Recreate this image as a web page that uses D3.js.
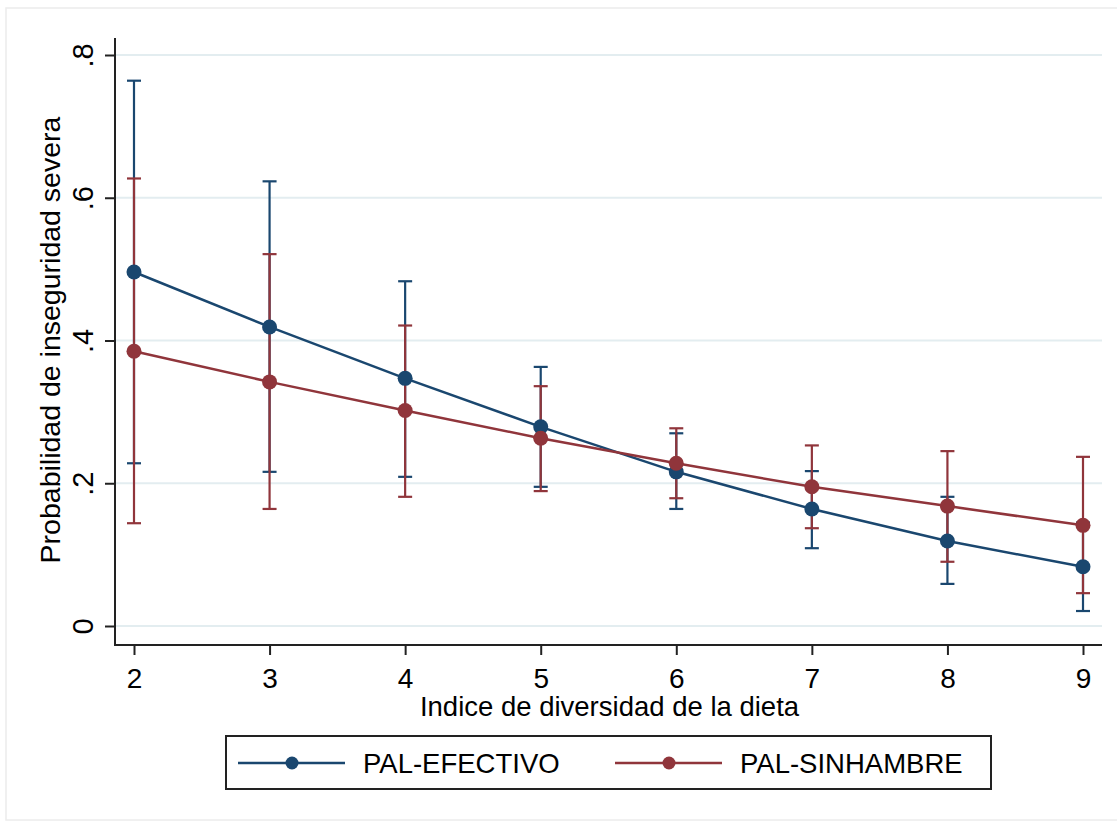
<!DOCTYPE html>
<html lang="es">
<head>
  <meta charset="utf-8">
  <title>Probabilidad de inseguridad severa</title>
  <script src="https://d3js.org/d3.v7.min.js"></script>
  <style>
    body { margin: 0; background: #fff; }
    text { font-family: "Liberation Sans", Arial, sans-serif; fill: #000; }
  </style>
</head>
<body>
<script>
  // datos
  var dieta = [2, 3, 4, 5, 6, 7, 8, 9];
  var efectivo = [0.496, 0.419, 0.347, 0.279, 0.216, 0.164, 0.119, 0.083];
  var efectivoLo = [0.228, 0.216, 0.209, 0.195, 0.164, 0.109, 0.059, 0.021];
  var efectivoHi = [0.764, 0.623, 0.483, 0.363, 0.270, 0.217, 0.181, 0.145];
  var sinhambre = [0.385, 0.342, 0.302, 0.263, 0.228, 0.195, 0.168, 0.141];
  var sinhambreLo = [0.144, 0.164, 0.181, 0.189, 0.179, 0.137, 0.090, 0.046];
  var sinhambreHi = [0.627, 0.521, 0.421, 0.336, 0.277, 0.253, 0.245, 0.237];
  var yTicks = [0, 0.2, 0.4, 0.6, 0.8];
  var yTickLabels = ["0", ".2", ".4", ".6", ".8"];
  var seriesNames = ["PAL-EFECTIVO", "PAL-SINHAMBRE"];
  var colors = ["#1a476f", "#90353b"];

  var width = 1117, height = 823;

  var svg = d3.select("body").append("svg")
      .attr("width", width)
      .attr("height", height);

  // marco exterior
  svg.append("rect")
      .attr("x", 6).attr("y", 8)
      .attr("width", 1130).attr("height", 812)
      .attr("fill", "none")
      .attr("stroke", "#ececec")
      .attr("stroke-width", 1.5);

  var x = d3.scaleLinear().domain([2, 9]).range([134, 1083]);
  var y = d3.scaleLinear().domain([0, 0.8]).range([626, 55]);

  var axisX = 115, axisY = 645, plotRight = 1102;

  // grid
  svg.append("g").selectAll("line")
      .data(yTicks)
      .join("line")
      .attr("x1", axisX + 1).attr("x2", plotRight)
      .attr("y1", d => y(d)).attr("y2", d => y(d))
      .attr("stroke", "#e3edf0")
      .attr("stroke-width", 2);

  // eje y
  var gy = svg.append("g")
      .attr("transform", "translate(" + axisX + ",0)")
      .call(d3.axisLeft(y).tickValues(yTicks).tickSize(10)
            .tickFormat((d, i) => yTickLabels[i]));
  gy.select(".domain").remove();
  gy.selectAll(".tick line").attr("stroke", "#222").attr("stroke-width", 2);
  gy.selectAll(".tick text")
      .attr("x", 0).attr("dy", 0)
      .attr("transform", "translate(-22,0) rotate(-90)")
      .attr("text-anchor", "middle")
      .attr("font-size", 29)
      .attr("fill", "#000");
  svg.append("line")
      .attr("x1", axisX).attr("x2", axisX)
      .attr("y1", 38).attr("y2", axisY + 1)
      .attr("stroke", "#222").attr("stroke-width", 2);

  // eje x
  var gx = svg.append("g")
      .attr("transform", "translate(0," + axisY + ")")
      .call(d3.axisBottom(x).tickValues(dieta).tickSize(10).tickFormat(d3.format("d")));
  gx.select(".domain").remove();
  gx.selectAll(".tick line").attr("stroke", "#222").attr("stroke-width", 2);
  gx.selectAll(".tick text")
      .attr("y", 43).attr("dy", 0)
      .attr("font-size", 28)
      .attr("fill", "#000");
  svg.append("line")
      .attr("x1", axisX - 1).attr("x2", plotRight)
      .attr("y1", axisY).attr("y2", axisY)
      .attr("stroke", "#222").attr("stroke-width", 2);

  // titulos
  svg.append("text")
      .attr("x", (x(2) + x(9)) / 2 + 1).attr("y", 716)
      .attr("text-anchor", "middle")
      .attr("font-size", 27.5)
      .text("Indice de diversidad de la dieta");

  svg.append("text")
      .attr("transform", "translate(60," + 340 + ") rotate(-90)")
      .attr("text-anchor", "middle")
      .attr("font-size", 28.5)
      .text("Probabilidad de inseguridad severa");

  var series = [
    {name: seriesNames[0], val: efectivo, lo: efectivoLo, hi: efectivoHi, color: colors[0]},
    {name: seriesNames[1], val: sinhambre, lo: sinhambreLo, hi: sinhambreHi, color: colors[1]}
  ];

  // intervalos de confianza
  var capW = 7;
  series.forEach(function(s) {
    var g = svg.append("g").attr("stroke", s.color).attr("stroke-width", 2.2);
    dieta.forEach(function(d, i) {
      g.append("line")
          .attr("x1", x(d)).attr("x2", x(d))
          .attr("y1", y(s.lo[i])).attr("y2", y(s.hi[i]));
      g.append("line")
          .attr("x1", x(d) - capW).attr("x2", x(d) + capW)
          .attr("y1", y(s.lo[i])).attr("y2", y(s.lo[i]));
      g.append("line")
          .attr("x1", x(d) - capW).attr("x2", x(d) + capW)
          .attr("y1", y(s.hi[i])).attr("y2", y(s.hi[i]));
    });
  });

  // lineas y marcadores
  var line = d3.line().x((d, i) => x(dieta[i])).y(d => y(d));
  series.forEach(function(s) {
    svg.append("path")
        .attr("d", line(s.val))
        .attr("fill", "none")
        .attr("stroke", s.color)
        .attr("stroke-width", 2.5);
    svg.append("g").selectAll("circle")
        .data(s.val)
        .join("circle")
        .attr("cx", (d, i) => x(dieta[i]))
        .attr("cy", d => y(d))
        .attr("r", 7.5)
        .attr("fill", s.color);
  });

  // leyenda
  var leg = svg.append("g");
  leg.append("rect")
      .attr("x", 226).attr("y", 736)
      .attr("width", 765).attr("height", 53)
      .attr("fill", "#fff")
      .attr("stroke", "#222")
      .attr("stroke-width", 2);
  var legX = [238, 615];
  series.forEach(function(s, i) {
    var lx = legX[i];
    leg.append("line")
        .attr("x1", lx).attr("x2", lx + 107)
        .attr("y1", 763).attr("y2", 763)
        .attr("stroke", s.color).attr("stroke-width", 2.5);
    leg.append("circle")
        .attr("cx", lx + 54).attr("cy", 763).attr("r", 6.5)
        .attr("fill", s.color);
    leg.append("text")
        .attr("x", lx + 125).attr("y", 773)
        .attr("font-size", 27.5)
        .text(s.name);
  });
</script>
</body>
</html>
